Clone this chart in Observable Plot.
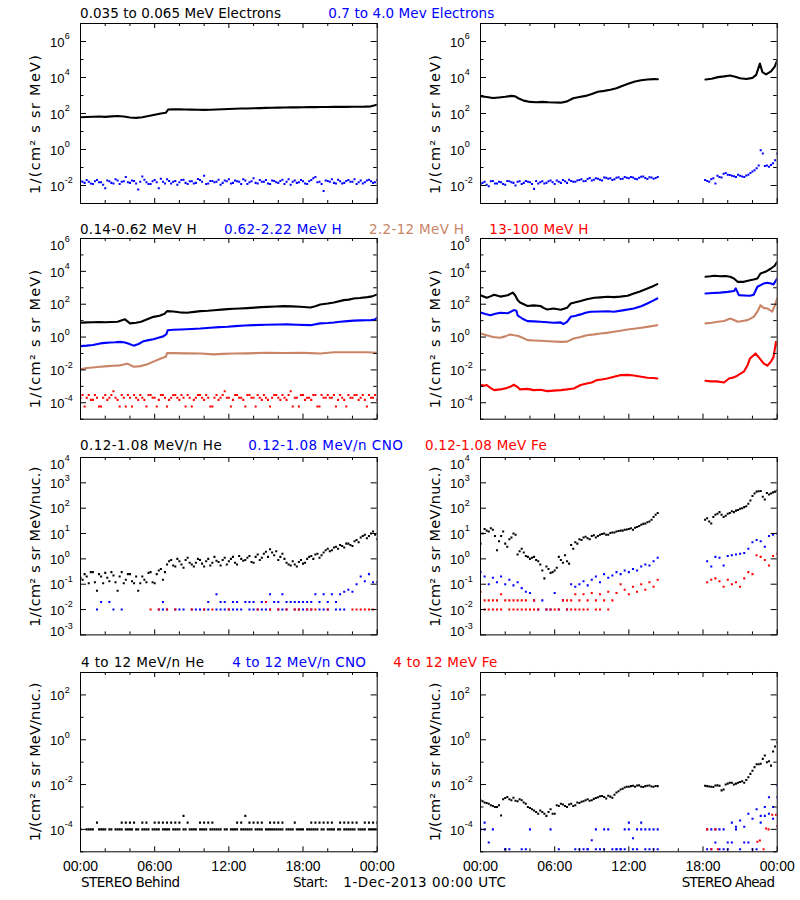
<!DOCTYPE html>
<html><head><meta charset="utf-8">
<script src="https://cdn.jsdelivr.net/npm/d3@7"></script>
<script src="https://cdn.jsdelivr.net/npm/@observablehq/plot@0.6"></script>
<style>
html,body{margin:0;padding:0;background:#fff;}
#root{position:relative;width:800px;height:900px;overflow:hidden;background:#fff;}
#root .pn{position:absolute;}
#root svg{overflow:visible;}
#ov{position:absolute;left:0;top:0;pointer-events:none;}
</style></head><body><div id="root"></div>
<script>
const _ = null;
// ---- time axis ----
const xTickHours = [0,2,4,6,8,10,12,14,16,18,20,22,24];
const xLabelHours = [0,6,12,18,24];
const xLabels = ["00:00","06:00","12:00","18:00","00:00"];

// ---- colours ----
const BLACK = "#000000", BLUE = "#0000ff", BROWN = "#c98566", RED = "#ff0000";

// ---- smooth series: [hour, value] ----
const eLoB = [[0,62],[0.5,64],[1,66],[1.5,68],[2,65],[2.5,69],[3,72],[3.5,68],[4,60],[4.5,57],[5,62],[5.5,72],[6,85],[6.5,100],[6.9,110],[7.1,168],[7.5,172],[8,170],[8.5,168],[9,165],[9.5,162],[10,158],[10.5,162],[11,168],[11.5,172],[12,178],[12.5,185],[13,188],[13.5,190],[14,195],[14.5,200],[15,205],[15.5,208],[16,212],[16.5,215],[17,218],[17.5,220],[18,222],[18.5,225],[19,226],[19.5,228],[20,230],[20.5,232],[21,232],[21.5,234],[22,235],[22.5,236],[23,240],[23.5,250],[24,310]];
const eLoA = [[0,900],[0.5,820],[1,720],[1.5,780],[2,850],[2.5,950],[2.8,900],[3.1,680],[3.5,520],[4,440],[4.5,420],[5,440],[5.5,420],[6,410],[6.5,400],[7,470],[7.5,700],[8,820],[8.5,950],[9,1200],[9.5,1600],[10,1800],[10.5,2100],[11,2500],[11.5,3500],[12,4700],[12.5,6000],[13,7000],[13.5,7800],[14,8100],[14.35,8000],[16,_],[18.2,7700],[18.7,8500],[19.2,10500],[19.7,11500],[20.2,13000],[20.6,11000],[21,9000],[21.5,8200],[22,9500],[22.3,14000],[22.6,60000],[22.8,20000],[23.1,15000],[23.5,22000],[23.8,40000],[24,90000]];
const h1B = [[0,7.5],[0.5,7.8],[1,8],[1.5,8.2],[2,8],[2.5,8.3],[3,8.5],[3.6,12],[4,6.8],[4.5,7.5],[4.9,8.5],[5.4,12],[5.9,17],[6.4,20],[6.8,26],[7.0,38],[7.5,36],[8,32],[8.6,30],[9.2,34],[9.7,38],[10.3,40],[10.8,43],[11.4,47],[11.9,50],[12.4,53],[12.9,55],[13.5,58],[14.1,62],[14.6,66],[15.1,69],[15.8,72],[16.45,76],[17.1,74],[17.8,70],[18.6,63],[19,75],[19.4,96],[20,110],[20.5,127],[21.3,177],[21.7,190],[22.1,224],[22.6,240],[23.2,270],[23.6,300],[24,395]];
const h2B = [[0,0.28],[0.5,0.3],[1,0.33],[1.6,0.41],[2,0.44],[2.4,0.47],[2.8,0.48],[3.2,0.51],[3.5,0.48],[3.8,0.42],[4.3,0.3],[4.7,0.38],[5.1,0.56],[5.5,0.65],[5.9,0.74],[6.3,0.9],[6.7,1.1],[6.95,1.5],[7.05,2.6],[7.5,2.8],[8.1,2.9],[9,3.1],[9.7,3.3],[10.5,3.7],[11.2,4],[11.9,4.2],[12.5,4.6],[13.3,5],[14,5.3],[15,5.6],[16,5.8],[16.7,5.9],[17.5,5.6],[18.6,5.3],[19.4,6.8],[20,7.2],[20.5,7.7],[21,8.5],[21.6,9.3],[22.1,10],[22.65,10.3],[23.1,10.5],[23.5,10.7],[23.8,11.5],[24,14.8]];
const h3B = [[0,0.011],[0.5,0.013],[1,0.014],[1.6,0.0155],[2.2,0.017],[2.7,0.018],[3.2,0.019],[3.8,0.024],[4.3,0.0155],[4.85,0.017],[5.4,0.022],[5.9,0.032],[6.5,0.05],[6.9,0.063],[7.0,0.105],[7.5,0.105],[8.5,0.102],[9.7,0.1],[10.8,0.088],[11.5,0.095],[12.4,0.1],[13.5,0.102],[15.1,0.11],[16.5,0.108],[17.8,0.11],[18.6,0.105],[19.4,0.1],[20.5,0.12],[21.5,0.12],[22.5,0.12],[23.2,0.118],[24,0.11]];
const h1A = [[0,355],[0.5,245],[0.8,300],[1.1,380],[1.6,290],[2.2,350],[2.6,510],[2.8,350],[3.0,178],[3.2,127],[3.5,100],[3.8,78],[4.3,85],[4.85,78],[5.1,60],[5.4,48],[5.9,55],[6.5,46],[7.0,60],[7.3,110],[7.7,130],[8.1,155],[8.6,200],[9.2,245],[9.7,260],[10.25,282],[10.8,270],[11.3,290],[11.9,325],[12.4,450],[12.9,600],[13.5,900],[13.9,1200],[14.3,1660],[16,_],[18.2,4700],[18.6,5000],[18.9,5400],[19.4,5000],[19.8,5200],[20.2,4700],[20.5,3700],[20.8,2300],[21.3,2300],[21.8,2900],[22.1,3200],[22.4,3700],[22.65,7400],[23.05,9400],[23.5,14900],[23.8,22000],[24,38000]];
const h2A = [[0,31.6],[0.4,25],[0.8,21],[1.2,26],[1.6,30],[2.2,28],[2.7,44],[2.9,40],[3.0,21],[3.4,13],[3.8,9.3],[4.3,9],[4.85,8.5],[5.4,8],[5.9,7.4],[6.5,7.8],[6.7,6.2],[7.0,8.5],[7.3,17],[7.7,20],[8.1,24],[8.5,30],[8.9,35],[9.7,36],[10.3,37],[10.8,35],[11.5,42],[12.4,55],[13,75],[13.5,110],[14,170],[14.3,224],[16,_],[18.2,450],[18.8,480],[19.4,510],[20,560],[20.5,630],[20.65,910],[20.9,355],[21.3,340],[21.8,325],[22.1,380],[22.4,1150],[22.9,1800],[23.2,2000],[23.5,1800],[23.7,1600],[24,3700]];
const h3A = [[0,1.66],[0.5,1.3],[1,1.0],[1.6,0.91],[2,1.1],[2.4,1.45],[2.7,1.3],[3.0,1.2],[3.4,0.9],[3.8,0.65],[4.3,0.62],[4.85,0.59],[5.5,0.55],[6.5,0.51],[7.0,0.53],[7.55,0.81],[8.1,1.0],[8.6,1.3],[9.2,1.45],[9.7,1.66],[10.2,1.8],[10.8,2.1],[11.3,2.4],[11.9,2.9],[12.4,3.2],[12.9,3.6],[13.6,4.3],[14.3,5.3],[16,_],[18.2,6.8],[18.7,7.5],[19.2,8.5],[19.7,9.5],[20.2,13.4],[20.5,11],[20.8,8.5],[21.2,9.5],[21.6,10.7],[22.1,17],[22.4,35],[22.65,87],[22.9,60],[23.2,55],[23.6,35],[23.8,80],[24,225]];
const h4A = [[0,1.2e-3],[0.3,1.1e-3],[0.5,1.2e-3],[0.8,8e-4],[1.1,5.9e-4],[1.6,6.5e-4],[2.0,7.5e-4],[2.4,9.3e-4],[2.7,1.25e-3],[3.0,9e-4],[3.2,6.5e-4],[3.8,7e-4],[4.3,5.9e-4],[4.85,6.2e-4],[5.4,5.1e-4],[5.9,5.5e-4],[6.5,5.9e-4],[7.0,6.5e-4],[7.55,7.4e-4],[8.1,1.2e-3],[8.6,1.5e-3],[9.0,1.7e-3],[9.4,2.4e-3],[9.8,2.6e-3],[10.25,3.0e-3],[10.8,3.8e-3],[11.3,4.8e-3],[11.9,5e-3],[12.4,4.6e-3],[13.0,3.8e-3],[13.5,3.3e-3],[14.0,3.2e-3],[14.3,3.0e-3],[16,_],[18.2,2.2e-3],[18.6,2.0e-3],[19.1,2.0e-3],[19.7,1.7e-3],[20.1,3e-3],[20.5,3.5e-3],[20.8,4.6e-3],[21.3,7.8e-3],[21.6,0.019],[21.8,0.05],[22.25,0.1],[22.5,0.06],[22.9,0.025],[23.2,0.018],[23.5,0.032],[23.7,0.06],[23.9,0.51],[24,0.3]];

// ---- scattered series: one value every 20 minutes ----
// "...A" grids start at 00:00 (73 values); "..._b" grids start at 00:10 (72 values)
const eHiB = [
 .018,.014,.016,.012,.020,.015,.007,.017,.013,.019,.016,.030,
 .014,.018,.006,.032,.015,.012,.020,.007,.016,.022,.013,.018,
 .015,.021,.012,.017,.014,.020,.035,.013,.018,.016,.011,.019,
 .022,.014,.017,.012,.019,.015,.025,.013,.016,.020,.012,.018,
 .014,.021,.016,.011,.019,.015,.017,.012,.020,.030,.016,.005,
 .018,.022,.013,.017,.014,.020,.016,.012,.019,.015,.021,.014,.020];
const eHiB_b = [
 .016,.020,.013,.017,.015,.011,.019,.014,.022,.012,.017,.015,
 .019,.013,.016,.021,.012,.017,.015,.024,.013,.018,.016,.011,
 .020,.014,.017,.013,.023,.016,.012,.018,.015,.021,.014,.017,
 .013,.019,.016,.022,.012,.017,.014,.020,.016,.013,.019,.015,
 .018,.012,.022,.016,.014,.020,.013,.017,.025,.015,.012,.019,
 .016,.014,.021,.013,.018,.016,.022,.015,.013,.019,.017,.015];
const eHiA = [
 .012,.016,.009,.018,.013,.015,.011,.017,.014,.016,.012,.018,
 .015,.0065,.013,.017,.014,.019,.012,.016,.020,.014,.018,.016,
 .020,.017,.023,.019,.025,.021,.028,.024,.020,.027,.023,.030,
 .025,.028,.022,.031,.026,.029,.024,.030,_,_,_,_,
 _,_,_,_,_,_,_,.018,.022,.013,.030,.045,
 .040,.035,.030,.035,.030,.040,.060,.090,.900,.120,.110,.170,.600];
const eHiA_b = [
 .014,.011,.017,.013,.016,.012,.018,.015,.010,.017,.014,.016,
 .012,.018,.015,.013,.017,.015,.019,.014,.017,.021,.016,.019,
 .022,.018,.026,.021,.024,.019,.027,.025,.022,.029,.024,.027,
 .030,.024,.027,.032,.023,.028,.026,_,_,_,_,_,
 _,_,_,_,_,_,.020,.016,.025,.035,.028,.050,
 .038,.033,.040,.032,.036,.050,.070,.130,.600,.130,.140,.250];
const h4B = [
 2e-4,6e-5,3e-4,1.5e-4,2e-4,6e-5,3e-4,2e-4,5e-4,1.5e-4,3e-4,6e-5,
 2e-4,3e-4,1.5e-4,2e-4,6e-5,3e-4,2e-4,1.5e-4,3e-4,6e-5,2e-4,3e-4,
 1.5e-4,2e-4,3e-4,6e-5,2e-4,3e-4,1.5e-4,2e-4,6e-5,3e-4,2e-4,5e-4,
 2e-4,1.5e-4,3e-4,2e-4,6e-5,3e-4,2e-4,3e-4,1.5e-4,2e-4,6e-5,3e-4,
 2e-4,3e-4,1.5e-4,5e-4,2e-4,6e-5,3e-4,2e-4,1.5e-4,3e-4,6e-5,2e-4,
 3e-4,2e-4,6e-5,3e-4,1.5e-4,3e-4,2e-4,3e-4,2e-4,1.5e-4,3e-4,2e-4,1.5e-4];
const h4B_b = [
 3e-4,2e-4,1.5e-4,3e-4,6e-5,2e-4,1.5e-4,3e-4,2e-4,6e-5,2e-4,3e-4,
 6e-5,2e-4,3e-4,1.5e-4,3e-4,2e-4,6e-5,3e-4,2e-4,1.5e-4,3e-4,2e-4,
 3e-4,6e-5,2e-4,1.5e-4,3e-4,2e-4,3e-4,6e-5,2e-4,1.5e-4,3e-4,2e-4,
 6e-5,3e-4,2e-4,1.5e-4,3e-4,2e-4,6e-5,2e-4,3e-4,1.5e-4,2e-4,3e-4,
 1.5e-4,2e-4,3e-4,6e-5,2e-4,3e-4,1.5e-4,2e-4,3e-4,6e-5,3e-4,2e-4,
 2e-4,3e-4,1.5e-4,2e-4,6e-5,2e-4,3e-4,1.5e-4,3e-4,6e-5,2e-4,3e-4];
const heB = [
 .18,.25,.11,.3,.055,.2,.28,.13,.22,.055,.3,.15,
 .25,.11,.055,.2,.12,.3,.11,.35,.15,.6,.9,.5,
 .8,.45,1.1,.6,.7,.9,.5,1.0,.7,.85,.55,1.1,
 .8,1.2,.6,1.0,.9,1.3,.7,1.5,1.1,1.9,2.4,1.4,
 .9,1.6,.7,.55,.6,.75,.65,1.0,1.3,1.5,1.1,1.8,
 2.5,2.2,3.0,3.5,2.8,4.0,3.2,5.5,7.0,9.0,8.0,12,6.0];
const heB_b = [
 .15,.2,.3,.12,.25,.11,.18,.3,.12,.2,.11,.25,
 .13,.2,.11,.15,.28,.12,.25,.4,.3,.8,.55,1.0,
 .6,.9,.7,.5,1.0,.65,.8,.55,1.2,.75,.9,.6,
 1.0,.7,1.3,.85,1.1,.75,1.2,.9,1.6,1.2,1.8,2.0,
 1.2,1.0,.6,.8,.5,.9,.7,1.2,1.0,1.6,1.4,2.2,
 2.0,2.8,2.5,3.2,4.0,3.5,5.0,4.5,8.0,6.5,10,9];
const cnoB1 = [
 _,_,_,_,.01,_,_,_,.01,_,.01,_,
 _,_,_,_,_,_,_,.01,.01,.01,_,.01,
 .01,.01,_,.01,.01,.01,.01,.01,_,.01,.01,.01,
 .01,.01,.01,.01,_,.01,.01,.01,.01,.01,.01,_,
 .01,.01,.01,_,.01,.01,.01,.01,.01,_,.01,.01,
 .01,_,.01,.01,.01,_,_,_,_,_,_,_,_];
const cnoB2 = [
 _,_,_,_,_,.02,_,.02,_,_,_,_,
 _,_,_,_,_,_,_,_,.02,_,_,_,
 _,_,_,_,_,_,_,.02,_,.04,.02,.02,
 _,.02,.02,_,.02,.02,.02,_,.02,.02,.04,.02,
 .02,.04,.02,.02,.02,.02,.02,.02,.02,.04,.02,.04,
 .02,.04,.02,.04,.05,.06,.05,.1,.2,.13,.25,.12,.12];
const feB = [
 _,_,_,_,_,_,_,_,_,_,_,_,
 _,_,_,_,_,.01,_,.01,_,.01,_,.01,
 _,_,_,.01,_,_,.01,_,.01,_,_,_,
 .01,_,_,_,_,_,_,.01,_,.02,.01,_,
 .01,_,.01,_,.01,.01,_,.01,.01,.01,_,_,
 .01,_,_,_,_,_,.01,.01,.01,.01,.01,.01,_];
const heA = [
 4.0,15,12,14,2.2,8,4,6,10,1.5,2.5,1.3,
 1.0,1.2,.8,.35,.5,.28,.35,1.2,.7,.8,3.5,4.5,
 6,7,6.5,8,7,9,10,9,11,12,13,14,
 15,14,18,22,25,30,45,65,_,_,_,_,
 _,_,_,_,_,_,_,40,25,55,70,45,
 60,75,80,95,110,150,300,450,480,220,350,420,500];
const heA_b = [
 10,13,16,8,5,12,3,7,9,2.0,1.8,1.2,
 1.1,.9,.6,.17,.4,.3,.45,.9,1.4,.65,2.5,4.0,
 5.5,7.5,6,8.5,8,9.5,9,10.5,11,12.5,13,14.5,
 16,17,20,24,28,35,55,_,_,_,_,_,
 _,_,_,_,_,_,35,30,45,60,55,50,
 65,70,85,100,120,200,380,470,280,400,380,450];
const cnoA = [
 .3,.2,.1,.18,.12,.2,.1,.15,.09,.12,.07,.05,
 .045,.023,.01,.023,.01,.01,.045,.01,.023,.01,.1,.08,
 .1,.13,.09,.15,.2,.12,.25,.18,.22,.3,.25,.35,
 .3,.4,.35,.5,.6,.55,.8,1.1,_,_,_,_,
 _,_,_,_,_,_,_,.8,.5,1.2,1.1,.55,
 1.3,1.4,1.5,1.6,1.7,2.5,4.5,5.5,5.0,3.0,8,9,10];
const feA1 = [
 _,.01,.01,.01,.01,.01,_,.01,.01,.01,.01,.01,
 .01,.01,.01,_,.01,.01,.01,.01,_,.01,.01,.01,
 .01,.01,.01,_,.01,.01,_,.01,_,_,_,_,
 _,_,_,_,_,_,_,_,_,_,_,_,
 _,_,_,_,_,_,_,_,_,_,_,_,
 _,_,_,_,_,_,_,_,_,_,_,_,_];
const feA2 = [
 .05,.023,.023,.023,.023,.04,.023,.023,.023,.023,.023,.023,
 _,.023,_,_,_,_,_,_,.023,.023,.023,.04,
 .023,.04,.023,.045,.023,.04,.023,.05,.023,.045,.1,.06,
 .04,.08,.05,.1,.06,.12,.08,.15,_,_,_,_,
 _,_,_,_,_,_,_,.12,.15,.17,.13,.08,
 .15,.1,.12,.08,.17,.3,.25,1.4,1.2,.9,.55,1.3,1.6];
const he4B1 = [
 1e-4,_,1e-4,1e-4,_,1e-4,1e-4,1e-4,_,1e-4,1e-4,1e-4,
 1e-4,_,1e-4,1e-4,1e-4,_,1e-4,1e-4,1e-4,1e-4,_,1e-4,
 1e-4,1e-4,_,1e-4,1e-4,1e-4,1e-4,_,1e-4,1e-4,1e-4,1e-4,
 _,1e-4,1e-4,1e-4,1e-4,1e-4,_,1e-4,1e-4,1e-4,1e-4,1e-4,
 1e-4,1e-4,1e-4,1e-4,_,1e-4,1e-4,1e-4,1e-4,1e-4,_,1e-4,
 1e-4,1e-4,_,1e-4,1e-4,1e-4,1e-4,_,1e-4,1e-4,1e-4,1e-4,1e-4];
const he4B1_b = [
 _,1e-4,1e-4,_,1e-4,1e-4,_,1e-4,1e-4,1e-4,_,1e-4,
 1e-4,1e-4,_,1e-4,1e-4,1e-4,1e-4,_,1e-4,1e-4,1e-4,1e-4,
 _,1e-4,1e-4,1e-4,_,1e-4,1e-4,1e-4,1e-4,1e-4,_,1e-4,
 1e-4,1e-4,_,1e-4,1e-4,1e-4,1e-4,1e-4,_,1e-4,1e-4,1e-4,
 1e-4,_,1e-4,1e-4,1e-4,1e-4,_,1e-4,1e-4,1e-4,1e-4,_,
 1e-4,1e-4,1e-4,_,1e-4,1e-4,1e-4,1e-4,1e-4,_,1e-4,1e-4];
const he4B2 = [
 _,_,_,_,2e-4,_,_,_,_,_,2e-4,2e-4,
 2e-4,2e-4,_,2e-4,2e-4,_,2e-4,2e-4,2e-4,2e-4,2e-4,2e-4,
 2e-4,4e-4,2e-4,_,_,2e-4,2e-4,2e-4,2e-4,_,_,_,
 _,_,2e-4,2e-4,4e-4,2e-4,2e-4,2e-4,2e-4,_,2e-4,2e-4,
 2e-4,2e-4,_,_,2e-4,_,_,_,2e-4,2e-4,2e-4,2e-4,
 2e-4,2e-4,_,2e-4,2e-4,2e-4,2e-4,2e-4,_,2e-4,2e-4,2e-4,2e-4];
const he4A = [
 2.0e-3,1.6e-3,1.4e-3,1.1e-3,1.0e-3,4.2e-4,2.5e-3,2.2e-3,2.6e-3,1.8e-3,2.0e-3,1.4e-3,
 9e-4,7e-4,5e-4,6e-4,4e-4,8e-4,5e-4,1.1e-3,1.3e-3,1.0e-3,1.4e-3,1.2e-3,
 1.5e-3,1.8e-3,2.2e-3,2.0e-3,2.5e-3,3e-3,2.8e-3,3.2e-3,2.6e-3,4.4e-3,6e-3,7.4e-3,
 8e-3,8.8e-3,9e-3,8e-3,8.5e-3,9e-3,8e-3,8.5e-3,_,_,_,_,
 _,_,_,_,_,_,_,8.5e-3,8e-3,9e-3,8.8e-3,6e-3,
 1.1e-2,1.2e-2,1.1e-2,1.3e-2,1.2e-2,2.1e-2,4.1e-2,8e-2,8.5e-2,0.2,0.11,0.3,0.76];
const he4A_b = [
 1.8e-3,1.5e-3,1.2e-3,1.0e-3,1.2e-3,2.2e-3,2.8e-3,2.0e-3,1.9e-3,2.2e-3,1.6e-3,1.0e-3,
 8e-4,6e-4,7e-4,5e-4,6e-4,5e-4,1.2e-3,1.4e-3,1.1e-3,1.3e-3,1.1e-3,1.6e-3,
 1.7e-3,2.0e-3,1.9e-3,2.3e-3,2.7e-3,3.1e-3,2.4e-3,2.9e-3,3.5e-3,5e-3,6.5e-3,8e-3,
 8.5e-3,8e-3,9.2e-3,7.8e-3,8.8e-3,8.2e-3,8.6e-3,_,_,_,_,_,
 _,_,_,_,_,_,8.8e-3,8.2e-3,7.8e-3,9.2e-3,5.5e-3,1.0e-2,
 1.2e-2,1.0e-2,1.2e-2,1.4e-2,1.6e-2,3e-2,6e-2,8e-2,0.14,0.1,0.07,0.5];
const cnoA4a = [
 1e-4,2e-4,2.6e-5,1e-4,_,_,1.3e-5,1.3e-5,_,_,_,1.3e-5,
 1e-4,_,_,_,_,1e-4,_,1.3e-5,_,_,_,1.3e-5,
 1.3e-5,1.3e-5,1.3e-5,3.3e-5,1e-4,1.3e-5,1.3e-5,1e-4,1.3e-5,1.3e-5,1.3e-5,1e-4,
 2e-4,4e-5,1e-4,2e-4,1e-4,1.3e-5,1e-4,1.3e-5,_,_,_,_,
 _,_,_,_,_,_,_,1.3e-5,1e-4,2.6e-5,1e-4,1.3e-5,
 2.6e-5,2e-4,1.3e-4,2.5e-4,2.6e-5,5e-4,1.3e-5,8e-4,4e-4,1e-3,5e-4,1e-3,9e-3];
const cnoA4b = [
 _,1e-4,_,_,_,_,1.3e-5,_,_,_,1.3e-5,_,
 _,_,_,_,_,_,_,_,_,_,_,_,
 _,_,1.3e-5,_,1.3e-5,_,1e-4,_,_,1.3e-5,1.3e-5,1.3e-5,
 1e-4,1.3e-5,1.3e-5,1e-4,1.3e-5,1e-4,1.3e-5,1e-4,_,_,_,_,
 _,_,_,_,_,_,_,1e-4,1.3e-5,1e-4,1.3e-5,1e-4,
 1.3e-5,2.6e-5,1e-4,1.3e-5,1.3e-4,2.6e-5,3e-4,1.3e-5,2e-4,4e-4,2.7e-3,3e-4,2.7e-3];
const feA4 = [[18.33,1e-4],[18.67,1.3e-5],[19.0,1e-4],[19.2,1.3e-5],[22.4,2.8e-5],[22.6,3.2e-5],[22.9,1.3e-5],[23.1,1.1e-4],[23.3,1e-4],[23.6,4.5e-4],[23.9,4.5e-4],[24,1.4e-4]];

// ---- texts ----
const titles = [
 {t:"0.035 to 0.065 MeV Electrons", x:80, y:18.3, w:201, c:BLACK},
 {t:"0.7 to 4.0 Mev Electrons", x:328.3, y:18.3, w:166, c:BLUE},
 {t:"0.14-0.62 MeV H", x:80, y:234.3, w:116.7, c:BLACK},
 {t:"0.62-2.22 MeV H", x:224, y:234.3, w:117.7, c:BLUE},
 {t:"2.2-12 MeV H", x:369, y:234.3, w:95, c:BROWN},
 {t:"13-100 MeV H", x:489.3, y:234.3, w:99, c:RED},
 {t:"0.12-1.08 MeV/n He", x:80, y:450, w:141.7, c:BLACK},
 {t:"0.12-1.08 MeV/n CNO", x:248.3, y:450, w:154.7, c:BLUE},
 {t:"0.12-1.08 MeV Fe", x:425, y:450, w:121.7, c:RED},
 {t:"4 to 12 MeV/n He", x:81, y:666.7, w:123, c:BLACK},
 {t:"4 to 12 MeV/n CNO", x:232.3, y:666.7, w:133.7, c:BLUE},
 {t:"4 to 12 MeV Fe", x:393.3, y:666.7, w:104, c:RED},
 {t:"STEREO Behind", x:81, y:886.7, w:99, c:BLACK},
 {t:"Start:", x:293, y:886.7, w:35.3, c:BLACK},
 {t:"1-Dec-2013 00:00 UTC", x:343.3, y:886.7, w:162.7, c:BLACK},
 {t:"STEREO Ahead", x:681.7, y:886.7, w:93.3, c:BLACK},
];
const yTitles = [
 {t:"1/(cm² s sr MeV)", cy:124.5, w:139},
 {t:"1/(cm² s sr MeV)", cy:339, w:138.3},
 {t:"1/(cm² s sr MeV/nuc.)", cy:546.7, w:160},
 {t:"1/(cm² s sr MeV/nuc.)", cy:762, w:158.7},
];

// ---- layout ----
const rowsCfg = [
 {top:23.3, h:180, lo:-3, hi:7, labels:[-2,0,2,4,6]},
 {top:238.3, h:180.7, lo:-5, hi:6, labels:[-4,-2,0,2,4,6]},
 {top:457.3, h:177.4, lo:-3, hi:4, labels:[-3,-2,-1,0,1,2,3,4]},
 {top:671.7, h:179.3, lo:-5, hi:3, labels:[-4,-2,0,2]},
];
const B = 1/6; // grid offset (hours) for the "_b" grids
const panels = [
 {row:0,col:0, lines:[[eLoB,BLACK]], dots:[[eHiB,BLUE,0],[eHiB_b,BLUE,B]]},
 {row:0,col:1, lines:[[eLoA,BLACK]], dots:[[eHiA,BLUE,0],[eHiA_b,BLUE,B]]},
 {row:1,col:0, lines:[[h1B,BLACK],[h2B,BLUE],[h3B,BROWN]], dots:[[h4B,RED,0],[h4B_b,RED,B]]},
 {row:1,col:1, lines:[[h1A,BLACK],[h2A,BLUE],[h3A,BROWN],[h4A,RED]], dots:[]},
 {row:2,col:0, lines:[], dots:[[heB,BLACK,0],[heB_b,BLACK,B],[cnoB1,BLUE,0],[cnoB2,BLUE,0],[feB,RED,0]]},
 {row:2,col:1, lines:[], dots:[[heA,BLACK,0],[heA_b,BLACK,B],[cnoA,BLUE,0],[feA1,RED,0],[feA2,RED,0]]},
 {row:3,col:0, lines:[], dots:[[he4B1,BLACK,0],[he4B1_b,BLACK,B],[he4B2,BLACK,0]]},
 {row:3,col:1, lines:[], dots:[[he4A,BLACK,0],[he4A_b,BLACK,B],[cnoA4a,BLUE,0],[cnoA4b,BLUE,0],[feA4,RED,0]]},
];

const W = 400, ML = 80, MR = 23.3, FW = W - ML - MR;
const toPts = (d, off = 0) => (d.length && Array.isArray(d[0]))
  ? d.map(([h, v]) => ({h, v}))
  : d.map((v, i) => ({h: off + i / 3, v}));

const root = document.getElementById("root");

for (const p of panels) {
  const R = rowsCfg[p.row];
  const mt = 10, mb = p.row === 3 ? 40 : 10;
  const H = R.h + mt + mb;
  const marks = [];
  for (const [d, c] of p.lines)
    marks.push(Plot.line(toPts(d), {x: "h", y: "v", stroke: c, strokeWidth: 2.1, clip: true}));
  for (const [d, c, off] of p.dots)
    marks.push(Plot.dot(toPts(d, off).filter(o => o.v != null), {x: "h", y: "v", fill: c, r: 1.15, symbol: "square", clip: true}));
  marks.push(Plot.frame({stroke: "black", strokeWidth: 1}));
  const decs = d3.range(R.lo, R.hi + 1);
  const maj = decs.filter(d => R.labels.includes(d));
  const mnr = decs.filter(d => !R.labels.includes(d));
  for (const [set, len] of [[maj, 6], [mnr, 3.5]]) {
    marks.push(Plot.tickY(set, {y: d => 10 ** d, stroke: "black", insetRight: FW - len}));
    marks.push(Plot.tickY(set, {y: d => 10 ** d, stroke: "black", insetLeft: FW - len}));
  }
  const xmaj = xTickHours.filter(h => xLabelHours.includes(h));
  const xmin = xTickHours.filter(h => !xLabelHours.includes(h));
  for (const [set, len] of [[xmaj, 5], [xmin, 3]]) {
    marks.push(Plot.tickX(set, {x: d => d, stroke: "black", insetTop: R.h - len}));
    marks.push(Plot.tickX(set, {x: d => d, stroke: "black", insetBottom: R.h - len}));
  }
  // labels at the ends of the axis are nudged inside the frame, as in the original
  const mid = R.labels.filter(d => d !== R.hi && d !== R.lo);
  const top = R.labels.filter(d => d === R.hi);
  const bot = R.labels.filter(d => d === R.lo);
  for (const [set, shift] of [[mid, 0], [top, 6], [bot, -4]]) {
    marks.push(Plot.text(set, {y: d => 10 ** d, text: () => "10", frameAnchor: "left", dx: -30.5, dy: 1 + shift, textAnchor: "start", lineAnchor: "middle", fontSize: 13, fill: "black"}));
    marks.push(Plot.text(set, {y: d => 10 ** d, text: d => String(d), frameAnchor: "left", dx: -15.8, dy: -5 + shift, textAnchor: "start", lineAnchor: "middle", fontSize: 9, fill: "black"}));
  }
  if (p.row === 3) {
    marks.push(Plot.text(xLabelHours, {x: d => d, text: (d, i) => xLabels[i], frameAnchor: "bottom", dy: 15, lineAnchor: "middle", fontSize: 14, fill: "black"}));
  }
  const chart = Plot.plot({
    width: W, height: H,
    marginLeft: ML, marginRight: MR, marginTop: mt, marginBottom: mb,
    x: {domain: [0, 24], axis: null},
    y: {type: "log", domain: [10 ** R.lo, 10 ** R.hi], axis: null},
    style: {fontFamily: "'Liberation Sans', Arial, sans-serif", background: "transparent", overflow: "visible"},
    marks
  });
  const div = document.createElement("div");
  div.className = "pn";
  div.style.left = (p.col * 400) + "px";
  div.style.top = (R.top - mt) + "px";
  div.appendChild(chart);
  root.appendChild(div);
}

// overlay texts
const ov = d3.select(root).append("svg").attr("id", "ov").attr("width", 800).attr("height", 900);
ov.selectAll("text.ti").data(titles).join("text")
  .attr("x", d => d.x).attr("y", d => d.y)
  .attr("fill", d => d.c)
  .attr("font-family", "'DejaVu Sans', sans-serif").attr("font-size", 13.5)
  .attr("textLength", d => d.w).attr("lengthAdjust", "spacing")
  .text(d => d.t);
for (const col of [0, 1]) {
  ov.append("g").selectAll("text").data(yTitles).join("text")
    .attr("transform", d => `translate(${39.5 + col * 400},${d.cy}) rotate(-90)`)
    .attr("text-anchor", "middle")
    .attr("fill", "black")
    .attr("font-family", "'DejaVu Sans', sans-serif").attr("font-size", 14.5)
    .attr("textLength", d => d.w).attr("lengthAdjust", "spacing")
    .text(d => d.t);
}
</script></body></html>
